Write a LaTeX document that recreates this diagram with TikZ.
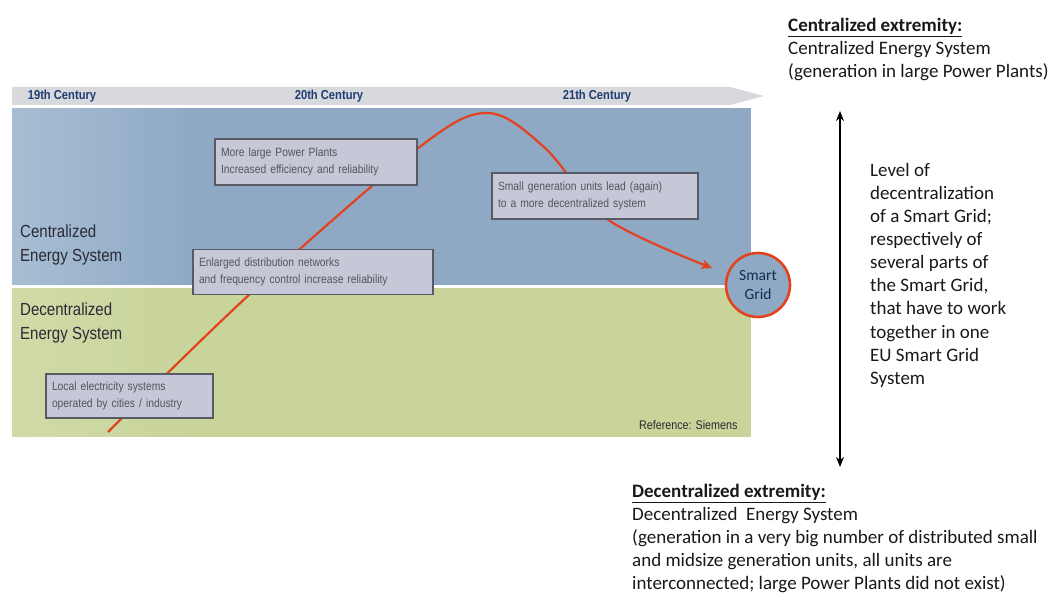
\documentclass[tikz,border=0pt]{standalone}
\usepackage{fontspec}
\setmainfont{Carlito}
\newfontfamily\chartfont[FakeStretch=0.86]{Liberation Sans}
\usetikzlibrary{arrows.meta}
\definecolor{bandgray}{HTML}{D7D9DD}
\definecolor{bandtext}{HTML}{1E3C72}
\definecolor{cblue}{HTML}{8FA9C5}
\definecolor{cbluel}{HTML}{A7BDD2}
\definecolor{dgreen}{HTML}{C8D49A}
\definecolor{dgreenl}{HTML}{D0DAA8}
\definecolor{boxfill}{HTML}{C6C7D7}
\definecolor{boxline}{HTML}{5A5A66}
\definecolor{curvered}{HTML}{E2431E}
\definecolor{labtext}{HTML}{2A2A35}
\tikzset{
  infobox/.style={draw=boxline, line width=1.1pt, fill=boxfill, align=left,
    inner xsep=6pt, font=\chartfont\fontsize{12}{17.5}\selectfont, text=labtext!80},
  century/.style={font=\chartfont\bfseries\fontsize{13}{14}\selectfont, text=bandtext},
  zonelabel/.style={font=\chartfont\fontsize{17.5}{23.5}\selectfont, text=labtext, align=left, anchor=north west, inner sep=0pt},
  sidetext/.style={font=\fontsize{19}{23.1}\selectfont, align=left, anchor=north west, inner sep=0pt, text=black!90},
  redcurve/.style={draw=curvered, line width=2.2pt, -{Stealth[length=11pt,width=10pt]}},
}
\begin{document}
\begin{tikzpicture}[x=1pt,y=-1pt]
\useasboundingbox (0,0) rectangle (1052,593);
\fill[white] (0,0) rectangle (1052,593);
% time band
\fill[bandgray] (12,87) -- (730,87) -- (764,96) -- (730,105) -- (12,105) -- cycle;
\node[century] (c19) at (62,96) {19th Century};
\node[century] (c20) at (329,96) {20th Century};
\node[century] (c21) at (597,96) {21th Century};
% zones
\fill[cblue] (12,108) rectangle (751,285);
\fill[dgreen] (12,288) rectangle (751,437);
\foreach \i in {0,...,19}{
  \pgfmathsetmacro{\p}{100-\i*5}
  \fill[cbluel!\p!cblue] ({12+\i*9},108) rectangle ({22+\i*9},285);
  \fill[dgreenl!\p!dgreen] ({12+\i*9},288) rectangle ({22+\i*9},437);
}
\node[zonelabel] (cen) at (20,225) {Centralized\\Energy System};
\node[zonelabel] (dec) at (20,303) {Decentralized\\Energy System};
\node[font=\chartfont\fontsize{12.5}{14}\selectfont, text=labtext, anchor=east] (ref) at (741,425) {Reference: Siemens};
% curve
\coordinate (s0) at (108,432);
\coordinate (s1) at (250,294);
\coordinate (s2) at (417,149);
\coordinate (s3) at (487,113);
\coordinate (s4) at (545,148);
\coordinate (s5) at (607,219);
\coordinate (s6) at (712,268);
\draw[redcurve] plot[smooth, tension=0.55] coordinates {(s0) (s1) (s2) (s3) (s4) (s5) (s6)};
% boxes
\node[infobox, minimum width=202pt, minimum height=46pt, text width=190pt] (b1) at (316,162) {More large Power Plants\\Increased efficiency and reliability};
\node[infobox, minimum width=206pt, minimum height=46pt, text width=194pt] (b2) at (595,196) {Small generation units lead (again)\\to a more decentralized system};
\node[infobox, minimum width=240pt, minimum height=45pt, text width=228pt] (b3) at (313,272) {Enlarged distribution networks\\and frequency control increase reliability};
\node[infobox, minimum width=167pt, minimum height=44pt, text width=155pt] (b4) at (129.5,396) {Local electricity systems\\operated by cities / industry};
% smart grid
\node[circle, draw=curvered, line width=2.6pt, fill=cblue, minimum size=64pt, align=center,
  font=\fontsize{15.5}{19}\selectfont, text=bandtext!70!black, inner sep=0pt] (sg) at (758,285) {Smart\\Grid};
% right side
\node[sidetext] (top) at (788,18) {\textbf{\underline{Centralized extremity:}}\\Centralized Energy System\\(generation in large Power Plants)};
\coordinate (au) at (840,111);
\coordinate (ad) at (840,467);
\draw[line width=1.6pt, {Stealth[length=10pt,width=8pt]}-{Stealth[length=10pt,width=8pt]}] (au) -- (ad);
\node[sidetext] (lvl) at (870,163) {Level of\\decentralization\\of a Smart Grid;\\respectively of\\several parts of\\the Smart Grid,\\that have to work\\together in one\\EU Smart Grid\\System};
\node[sidetext] (bot) at (632,484) {\textbf{\underline{Decentralized extremity:}}\\Decentralized\ \ Energy System\\(generation in a very big number of distributed small\\and midsize generation units, all units are\\interconnected; large Power Plants did not exist)};
\end{tikzpicture}
\end{document}
